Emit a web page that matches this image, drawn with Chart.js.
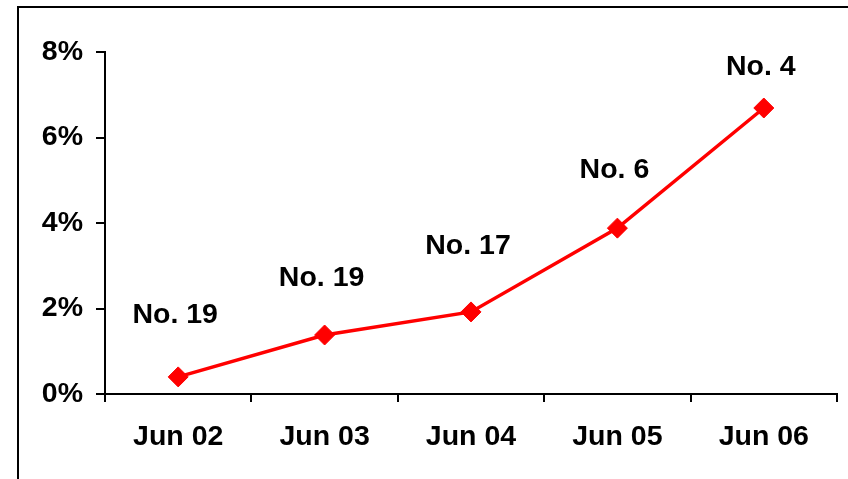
<!DOCTYPE html>
<html>
<head>
<meta charset="utf-8">
<script src="https://cdn.jsdelivr.net/npm/chart.js@4"></script>
<style>
  html, body { margin: 0; padding: 0; background: #fff; }
  #wrap { width: 848px; height: 479px; position: relative; }
</style>
</head>
<body>
<div id="wrap"><canvas id="c" width="848" height="479"></canvas></div>
<script>
const categories = ['Jun 02', 'Jun 03', 'Jun 04', 'Jun 05', 'Jun 06'];
const values = [0.40, 1.38, 1.92, 3.88, 6.69];
const rankLabels = ['No. 19', 'No. 19', 'No. 17', 'No. 6', 'No. 4'];
const yTicks = [0, 2, 4, 6, 8];

const FONT = '"Liberation Sans", Arial, sans-serif';
const FSIZE = 28.5;

const frame = {
  id: 'frame',
  beforeDraw(chart) {
    const ctx = chart.ctx;
    ctx.save();
    ctx.fillStyle = '#fff';
    ctx.fillRect(0, 0, chart.width, chart.height);
    ctx.strokeStyle = '#000';
    ctx.lineWidth = 2;
    ctx.beginPath();
    ctx.moveTo(18, chart.height + 2);
    ctx.lineTo(18, 7);
    ctx.lineTo(chart.width + 2, 7);
    ctx.stroke();
    ctx.restore();
  }
};

const rankText = {
  id: 'rankText',
  afterDatasetsDraw(chart, args, opts) {
    const ctx = chart.ctx;
    const meta = chart.getDatasetMeta(0);
    ctx.save();
    ctx.font = 'bold ' + FSIZE + 'px ' + FONT;
    ctx.fillStyle = '#000';
    ctx.textAlign = 'center';
    ctx.textBaseline = 'middle';
    meta.data.forEach((pt, i) => {
      ctx.fillText(rankLabels[i], pt.x - 3, pt.y - opts.offsets[i]);
    });
    ctx.restore();
  }
};

new Chart(document.getElementById('c'), {
  type: 'line',
  data: {
    labels: categories,
    datasets: [{
      data: values,
      borderColor: '#FF0000',
      backgroundColor: '#FF0000',
      borderWidth: 3.5,
      pointStyle: 'rectRot',
      pointRadius: 10,
      pointBorderWidth: 1,
      pointBackgroundColor: '#FF0000',
      pointBorderColor: '#FF0000',
      tension: 0
    }]
  },
  options: {
    responsive: false,
    animation: false,
    events: [],
    layout: { padding: { top: 52, right: 10, left: 0, bottom: 0 } },
    plugins: {
      legend: { display: false },
      tooltip: { enabled: false },
      title: { display: false },
      rankText: { offsets: [62, 57, 66, 58, 41] }
    },
    scales: {
      x: {
        type: 'category',
        offset: true,
        grid: { offset: true, drawOnChartArea: false, drawTicks: true, tickLength: 8, color: '#000', lineWidth: 2 },
        border: { display: true, color: '#000', width: 2 },
        ticks: { color: '#000', font: { family: FONT, size: FSIZE, weight: 'bold' }, padding: 18, maxRotation: 0, autoSkip: false },
        afterFit(scale) { scale.height = 85; }
      },
      y: {
        min: 0,
        max: 8,
        afterBuildTicks(scale) { scale.ticks = yTicks.map(v => ({ value: v })); },
        grid: { drawOnChartArea: false, drawTicks: true, tickLength: 9, color: '#000', lineWidth: 2 },
        border: { display: true, color: '#000', width: 2 },
        ticks: { color: '#000', font: { family: FONT, size: FSIZE, weight: 'bold' }, padding: 13, callback: v => v + '%' },
        afterFit(scale) { scale.width = 105; }
      }
    }
  },
  plugins: [frame, rankText]
});
</script>
</body>
</html>
